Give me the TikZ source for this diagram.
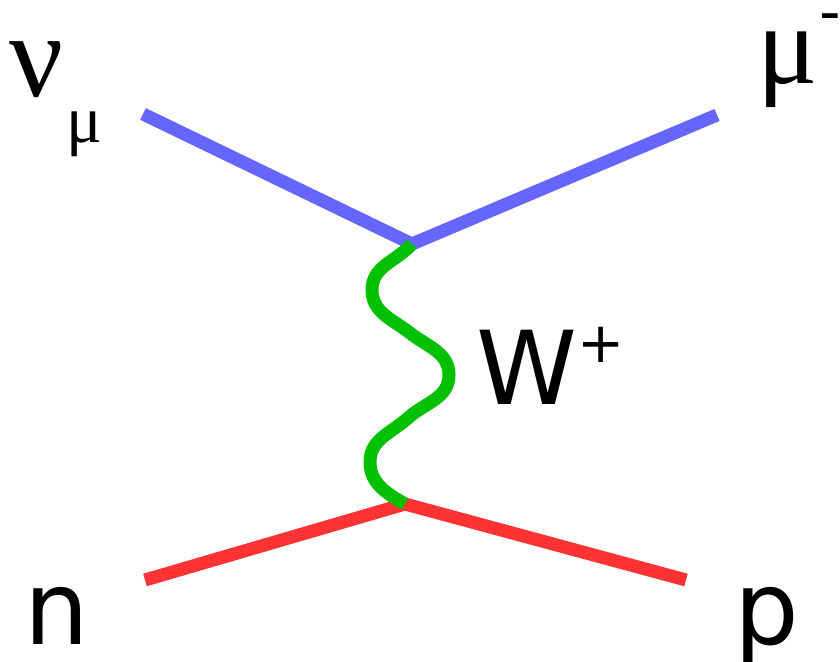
\documentclass[tikz,border=0pt]{standalone}
\usepackage{fontspec}
\setmainfont{DejaVu Sans}
\newfontfamily\greekfont{Liberation Serif}
\usetikzlibrary{positioning}
\definecolor{mblue}{HTML}{6666FF}
\definecolor{mred}{HTML}{FF3333}
\definecolor{mgreen}{HTML}{00C000}
\tikzset{
  lepton/.style={line width=3.7pt, mblue},
  hadron/.style={line width=3.7pt, mred},
  boson/.style={line width=3.7pt, mgreen},
  plbl/.style={inner sep=0pt, anchor=base, text depth=0pt, font=\fontsize{29}{29}\selectfont},
  glbl/.style={plbl, font=\greekfont\fontsize{34}{34}\selectfont},
}

\begin{document}
\begin{tikzpicture}[x=0.01cm, y=0.01cm]
  \useasboundingbox (0,0) rectangle (840,662);
  % vertices
  \coordinate (vtop) at (412,418);
  \coordinate (vbot) at (405,158);
  % outer legs
  \coordinate (numu) at (143,548);
  \coordinate (muon) at (717,547);
  \coordinate (neut) at (145,82);
  \coordinate (prot) at (686,82);
  % wiggle: turning points and crossings
  \coordinate (lp1) at (372,372);
  \coordinate (w1) at (410,329);
  \coordinate (rp) at (449,287);
  \coordinate (w2) at (408,244);
  \coordinate (lp2) at (370,200);

  \draw[lepton] (numu) -- (vtop) -- (muon);
  \draw[hadron] (neut) -- (vbot) -- (prot);
  \draw[boson] (vtop) to[out=228, in=90] (lp1) to[out=270, in=142] (w1)
    to[out=322, in=90] (rp) to[out=270, in=42] (w2)
    to[out=222, in=90] (lp2) to[out=270, in=150] (vbot);

  % labels
  \node[glbl] (nu) at (37,565) {ν};
  \node[glbl, font=\greekfont\fontsize{19}{19}\selectfont] (nusub) at (84,519) {μ};
  \node[glbl, font=\greekfont\fontsize{32}{32}\selectfont] (mu) at (788,578) {μ};
  \node[plbl, anchor=base west, font=\fontsize{17}{17}\selectfont] (muminus) at (819,629) {-};
  \node[plbl, anchor=base west] (wlbl) at (476,257)
    {W\raisebox{0.42em}{\fontsize{16}{16}\selectfont +}};
  \node[plbl] (nlbl) at (57,17) {n};
  \node[plbl] (plbl) at (767,17) {p};
\end{tikzpicture}
\end{document}
